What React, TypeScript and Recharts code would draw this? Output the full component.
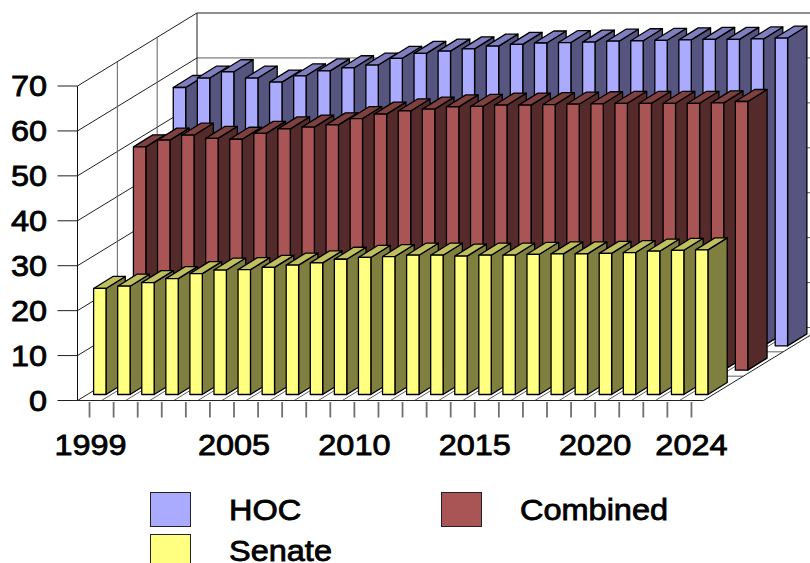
import React from "react";
import { Bar, ComposedChart, Customized, Legend, XAxis, YAxis } from "recharts";

const years = [
  1999, 2000, 2001, 2002, 2003, 2004, 2005, 2006, 2007, 2008, 2009, 2010, 2011,
  2012, 2013, 2014, 2015, 2016, 2017, 2018, 2019, 2020, 2021, 2022, 2023, 2024,
];
const labelledYears = [1999, 2005, 2010, 2015, 2020, 2024];
const valueTicks = [0, 10, 20, 30, 40, 50, 60, 70];

const hoc = [
  57.5, 59.6, 61.0, 59.6, 58.7, 60.1, 61.2, 61.9, 62.5, 64.0, 65.1, 65.6, 66.1,
  66.7, 67.1, 67.4, 67.5, 67.6, 67.8, 67.9, 68.0, 68.1, 68.2, 68.2, 68.3, 68.5,
];
const combined = [
  49.7, 51.2, 52.3, 51.6, 51.4, 52.7, 53.7, 54.1, 54.6, 56.0, 57.0, 57.7, 58.1,
  58.6, 58.7, 59.0, 59.0, 59.1, 59.2, 59.3, 59.4, 59.4, 59.4, 59.4, 59.5, 59.8,
];
const senate = [
  23.6, 24.1, 24.9, 25.8, 26.9, 27.7, 27.8, 28.3, 28.8, 29.3, 30.1, 30.5, 30.7,
  31.0, 31.0, 30.8, 31.0, 31.0, 31.2, 31.3, 31.3, 31.4, 31.6, 31.9, 32.1, 32.2,
];

const rows = years.map((year, i) => ({
  year,
  HOC: hoc[i],
  Combined: combined[i],
  Senate: senate[i],
}));

// Frame of the pseudo-3D box: front plane and the vector to the back wall.
const WIDTH = 810;
const HEIGHT = 563;
const LEFT = 77.5;
const RIGHT = 703.5;
const TOP = 86;
const BOTTOM = 400.5;
const DEPTH_X = 119.5;
const DEPTH_Y = 73;
const ROW_DX = DEPTH_X / 3;
const ROW_DY = DEPTH_Y / 3;
const BAR_WIDTH = 12.4;
const BAR_DX = 19.3;
const BAR_DY = 12;
const TEXT_STRETCH = 1.12;
const FONT = "'Liberation Sans', Arial, sans-serif";

const GRID_DARK = "#202020";
const GRID_GREY = "#606060";

// Back wall, left wall and floor, painted behind every series.
function Walls() {
  const yAt = (v: number) => BOTTOM - ((BOTTOM - TOP) * v) / 70;
  const slot = (RIGHT - LEFT) / years.length;
  const farX = LEFT + DEPTH_X;
  return (
    <g fill="none">
      {valueTicks.map((v) => (
        <g key={v}>
          <line x1={LEFT} y1={yAt(v)} x2={farX} y2={yAt(v) - DEPTH_Y} stroke={GRID_DARK} />
          <line
            x1={farX}
            y1={yAt(v) - DEPTH_Y}
            x2={RIGHT + DEPTH_X}
            y2={yAt(v) - DEPTH_Y}
            stroke={v === 70 ? GRID_DARK : GRID_GREY}
          />
        </g>
      ))}
      <line x1={farX} y1={yAt(70) - DEPTH_Y} x2={farX} y2={yAt(0) - DEPTH_Y} stroke={GRID_DARK} />
      {[1, 2].map((r) => (
        <g key={r}>
          <line
            x1={LEFT + r * ROW_DX}
            y1={yAt(70) - r * ROW_DY}
            x2={LEFT + r * ROW_DX}
            y2={yAt(0) - r * ROW_DY}
            stroke={GRID_GREY}
          />
          <line
            x1={LEFT + r * ROW_DX}
            y1={yAt(0) - r * ROW_DY}
            x2={RIGHT + r * ROW_DX}
            y2={yAt(0) - r * ROW_DY}
            stroke={GRID_GREY}
          />
        </g>
      ))}
      {years.map((y, i) => (
        <line
          key={y}
          x1={LEFT + (i + 1) * slot}
          y1={BOTTOM}
          x2={LEFT + (i + 1) * slot + DEPTH_X}
          y2={BOTTOM - DEPTH_Y}
          stroke={i === years.length - 1 ? GRID_DARK : GRID_GREY}
        />
      ))}
    </g>
  );
}

type BoxProps = {
  x?: number;
  y?: number;
  width?: number;
  height?: number;
  row: number;
  front: string;
  side: string;
  top: string;
};

// One extruded column, pushed back along the depth vector by its series row.
function Box3D({ x = 0, y = 0, width = 0, height = 0, row, front, side, top }: BoxProps) {
  const fx = x + 10.1 + row * ROW_DX;
  const fy = y - 6 - row * ROW_DY;
  const r = fx + width;
  const b = fy + height;
  const outline = { stroke: "#000", strokeWidth: 1.3, strokeLinejoin: "round" as const };
  return (
    <g>
      <polygon
        points={`${r},${fy} ${r + BAR_DX},${fy - BAR_DY} ${r + BAR_DX},${b - BAR_DY} ${r},${b}`}
        fill={side}
        {...outline}
      />
      <polygon
        points={`${fx},${fy} ${fx + BAR_DX},${fy - BAR_DY} ${r + BAR_DX},${fy - BAR_DY} ${r},${fy}`}
        fill={top}
        {...outline}
      />
      <rect x={fx} y={fy} width={width} height={height} fill={front} {...outline} />
    </g>
  );
}

function StretchedText({ x, y, anchor, children }: { x: number; y: number; anchor: "start" | "middle" | "end"; children: React.ReactNode }) {
  return (
    <text
      transform={`translate(${x},${y}) scale(${TEXT_STRETCH},1)`}
      textAnchor={anchor}
      fontFamily={FONT}
      fontSize={29}
      fill="#000"
      stroke="#000"
      strokeWidth={0.8}
    >
      {children}
    </text>
  );
}

function YearTick({ x = 0, y = 0, payload }: any) {
  const label = labelledYears.includes(payload.value);
  return (
    <g>
      <line x1={x} y1={y + 1.5} x2={x} y2={y + 17} stroke="#707070" strokeWidth={1.8} />
      {label ? (
        <StretchedText x={payload.value === 1999 ? x + 1 : x} y={455} anchor="middle">
          {payload.value}
        </StretchedText>
      ) : null}
    </g>
  );
}

function ValueTick({ y = 0, payload }: any) {
  return (
    <StretchedText x={47} y={y + 10.3} anchor="end">
      {payload.value}
    </StretchedText>
  );
}

const legendSlots: Record<string, { left: number; top: number; textLeft: number; baseline: number }> = {
  HOC: { left: 149.5, top: 492, textLeft: 229, baseline: 520 },
  Combined: { left: 440.5, top: 492, textLeft: 520, baseline: 520 },
  Senate: { left: 149.5, top: 533.5, textLeft: 229, baseline: 561.5 },
};

function LegendContent({ payload }: any) {
  return (
    <>
      {(payload || []).map((item: any) => {
        const slot = legendSlots[item.value];
        return (
          <React.Fragment key={item.value}>
            <div
              style={{
                position: "absolute",
                left: slot.left,
                top: slot.top,
                width: 39,
                height: 33,
                background: item.color,
                border: "1px solid #222",
                boxSizing: "content-box",
              }}
            />
            <div
              style={{
                position: "absolute",
                left: slot.textLeft,
                top: slot.baseline - 22.5,
                fontFamily: FONT,
                fontSize: 29,
                lineHeight: "24px",
                color: "#000",
                whiteSpace: "nowrap",
                WebkitTextStroke: "0.8px #000",
                transform: `scaleX(${TEXT_STRETCH})`,
                transformOrigin: "left center",
              }}
            >
              {item.value}
            </div>
          </React.Fragment>
        );
      })}
    </>
  );
}

export default function App() {
  return (
    <div
      style={{
        position: "absolute",
        left: 0,
        top: 0,
        width: WIDTH,
        height: HEIGHT,
        overflow: "hidden",
        background: "#fff",
      }}
    >
      <ComposedChart
        width={WIDTH}
        height={HEIGHT}
        data={rows}
        margin={{ top: TOP, right: WIDTH - RIGHT, bottom: 0, left: 0 }}
        barSize={BAR_WIDTH}
        barGap={-BAR_WIDTH}
      >
        <Customized component={Walls} />
        <XAxis
          dataKey="year"
          height={HEIGHT - BOTTOM}
          interval={0}
          tickLine={false}
          tickSize={0}
          tickMargin={0}
          tick={<YearTick />}
          axisLine={{ stroke: "#222" }}
        />
        <YAxis
          width={LEFT}
          domain={[0, 70]}
          ticks={valueTicks}
          tickSize={20}
          tickLine={{ stroke: GRID_DARK }}
          axisLine={{ stroke: "#111" }}
          tick={<ValueTick />}
        />
        <Legend
          layout="horizontal"
          verticalAlign="middle"
          align="center"
          wrapperStyle={{ left: 0, top: 0, width: 0, height: 0, margin: 0 }}
          content={<LegendContent />}
        />
        <Bar
          dataKey="HOC"
          name="HOC"
          fill="#AAAAFF"
          isAnimationActive={false}
          shape={(p: any) => <Box3D {...p} row={2} front="#AAAAFF" side="#55557F" top="#7F7FBF" />}
        />
        <Bar
          dataKey="Combined"
          name="Combined"
          fill="#AA5555"
          isAnimationActive={false}
          shape={(p: any) => <Box3D {...p} row={1} front="#AA5555" side="#552A2A" top="#7F4040" />}
        />
        <Bar
          dataKey="Senate"
          name="Senate"
          fill="#FFFF80"
          isAnimationActive={false}
          shape={(p: any) => <Box3D {...p} row={0} front="#FFFF80" side="#7F7F40" top="#BFBF60" />}
        />
      </ComposedChart>
    </div>
  );
}
